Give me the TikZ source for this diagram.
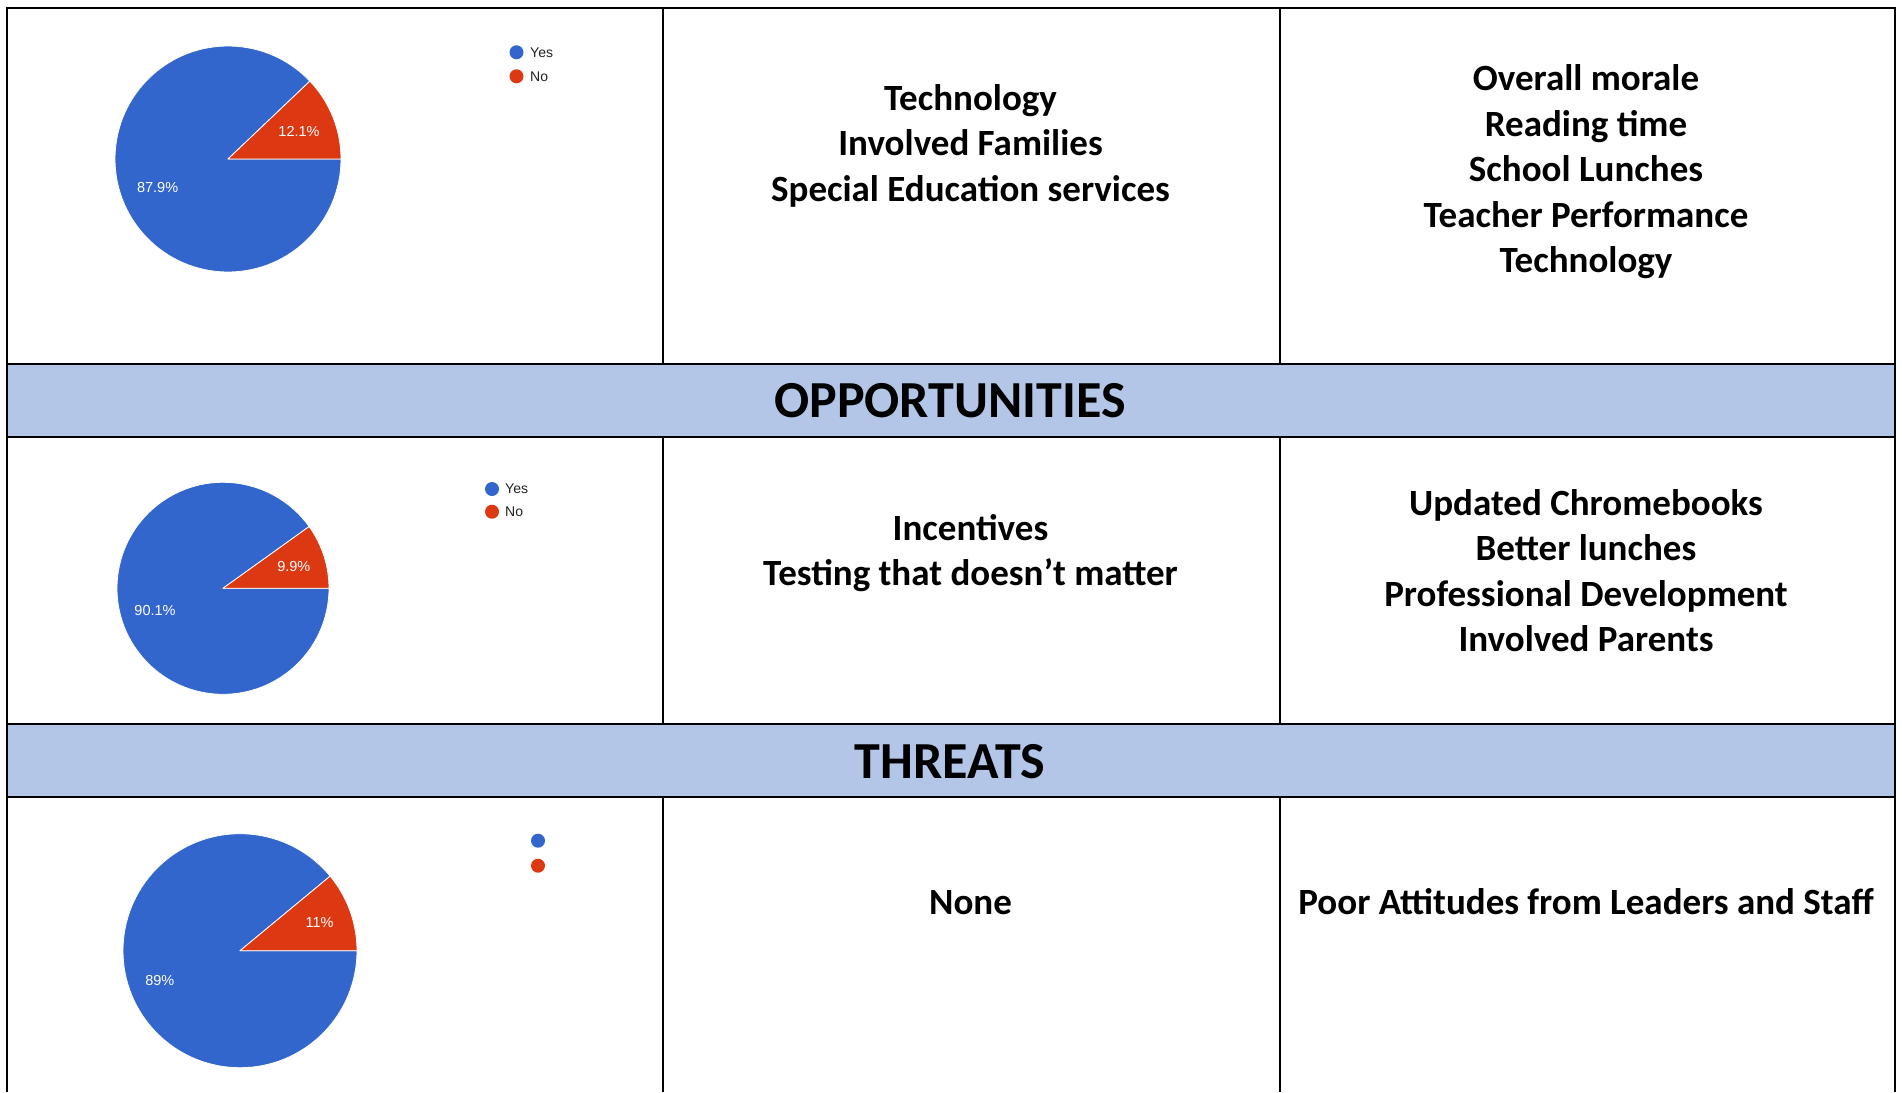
\documentclass[tikz,border=0pt]{standalone}
\usepackage{fontspec}
\setmainfont{Carlito}
\newfontfamily\chartfont{Liberation Sans}
\definecolor{bandfill}{HTML}{B4C6E7}
\definecolor{pieblue}{HTML}{3366CC}
\definecolor{piered}{HTML}{DC3912}
\definecolor{legtext}{HTML}{222222}
\begin{document}
\begin{tikzpicture}[x=1pt,y=-1pt,
  cell/.style={anchor=base, font=\fontsize{37}{44}\selectfont\bfseries, inner sep=0pt},
  head/.style={anchor=base, font=\fontsize{52}{60}\selectfont\bfseries, inner sep=0pt},
  gridline/.style={line width=2pt, black},
  bandline/.style={line width=2.6pt, black},
  pct/.style={font=\chartfont\fontsize{14.5}{16}\selectfont, text=white, inner sep=0pt},
  legtxt/.style={font=\chartfont\fontsize{14}{16}\selectfont, text=legtext, anchor=west, inner sep=0pt},
  slice/.style={draw=white, line width=0.8pt, line join=round}]

\useasboundingbox (0,0) rectangle (1902,1092);
\fill[white] (0,0) rectangle (1902,1092);

% header bands
\fill[bandfill] (7,364) rectangle (1895,437);
\fill[bandfill] (7,724) rectangle (1895,797);

% grid lines
\draw[gridline] (7,1092) -- (7,8) -- (1895,8) -- (1895,1092);
\draw[gridline] (663,8) -- (663,364);
\draw[gridline] (1280,8) -- (1280,364);
\draw[gridline] (663,437) -- (663,724);
\draw[gridline] (1280,437) -- (1280,724);
\draw[gridline] (663,797) -- (663,1092);
\draw[gridline] (1280,797) -- (1280,1092);
\draw[bandline] (7,364) -- (1895,364);
\draw[bandline] (7,437) -- (1895,437);
\draw[bandline] (7,724) -- (1895,724);
\draw[bandline] (7,797) -- (1895,797);

% header texts
\node[head] (hopp) at (950,417) {OPPORTUNITIES};
\node[head] (hthr) at (950,778) {THREATS};

% row 1 texts
\node[cell] (r1a) at (970.5,110) {Technology};
\node[cell] (r1b) at (970.5,155.5) {Involved Families};
\node[cell] (r1c) at (970.5,201) {Special Education services};
\node[cell] (r1d) at (1586,90.5) {Overall morale};
\node[cell] (r1e) at (1586,136) {Reading time};
\node[cell] (r1f) at (1586,181.5) {School Lunches};
\node[cell] (r1g) at (1586,227) {Teacher Performance};
\node[cell] (r1h) at (1586,272.5) {Technology};

% row 2 texts
\node[cell] (r2a) at (970.5,540) {Incentives};
\node[cell] (r2b) at (970.5,585.5) {Testing that doesn’t matter};
\node[cell] (r2c) at (1586,515) {Updated Chromebooks};
\node[cell] (r2d) at (1586,560.5) {Better lunches};
\node[cell] (r2e) at (1586,606) {Professional Development};
\node[cell] (r2f) at (1586,651.5) {Involved Parents};

% row 3 texts
\node[cell] (r3a) at (970.5,914) {None};
\node[cell] (r3b) at (1586,914) {Poor Attitudes from Leaders and Staff};

% pie 1
\coordinate (p1) at (228,159);
\fill[pieblue, slice] (p1) -- ++(43.56:113pt) arc[start angle=43.56, end angle=360, radius=113pt] -- cycle;
\fill[piered, slice] (p1) -- ++(0:113pt) arc[start angle=0, end angle=43.56, radius=113pt] -- cycle;
\node[pct] (p1r) at (299,131) {12.1\%};
\node[pct] (p1b) at (157.6,187.7) {87.9\%};
\fill[pieblue] (516.5,52.3) circle[radius=7pt];
\fill[piered] (516.5,76.3) circle[radius=7pt];
\node[legtxt] (l1y) at (530,52.3) {Yes};
\node[legtxt] (l1n) at (530,76.3) {No};

% pie 2
\coordinate (p2) at (223,588.3);
\fill[pieblue, slice] (p2) -- ++(35.64:106pt) arc[start angle=35.64, end angle=360, radius=106pt] -- cycle;
\fill[piered, slice] (p2) -- ++(0:106pt) arc[start angle=0, end angle=35.64, radius=106pt] -- cycle;
\node[pct] (p2r) at (293.8,566.7) {9.9\%};
\node[pct] (p2b) at (155,610.7) {90.1\%};
\fill[pieblue] (492,489) circle[radius=7pt];
\fill[piered] (492,511.7) circle[radius=7pt];
\node[legtxt] (l2y) at (505,489) {Yes};
\node[legtxt] (l2n) at (505,511.7) {No};

% pie 3
\coordinate (p3) at (240,950.7);
\fill[pieblue, slice] (p3) -- ++(39.6:117pt) arc[start angle=39.6, end angle=360, radius=117pt] -- cycle;
\fill[piered, slice] (p3) -- ++(0:117pt) arc[start angle=0, end angle=39.6, radius=117pt] -- cycle;
\node[pct] (p3r) at (319.6,922.3) {11\%};
\node[pct] (p3b) at (159.8,980) {89\%};
\fill[pieblue] (538,840.7) circle[radius=7pt];
\fill[piered] (538,865.7) circle[radius=7pt];
\end{tikzpicture}
\end{document}
